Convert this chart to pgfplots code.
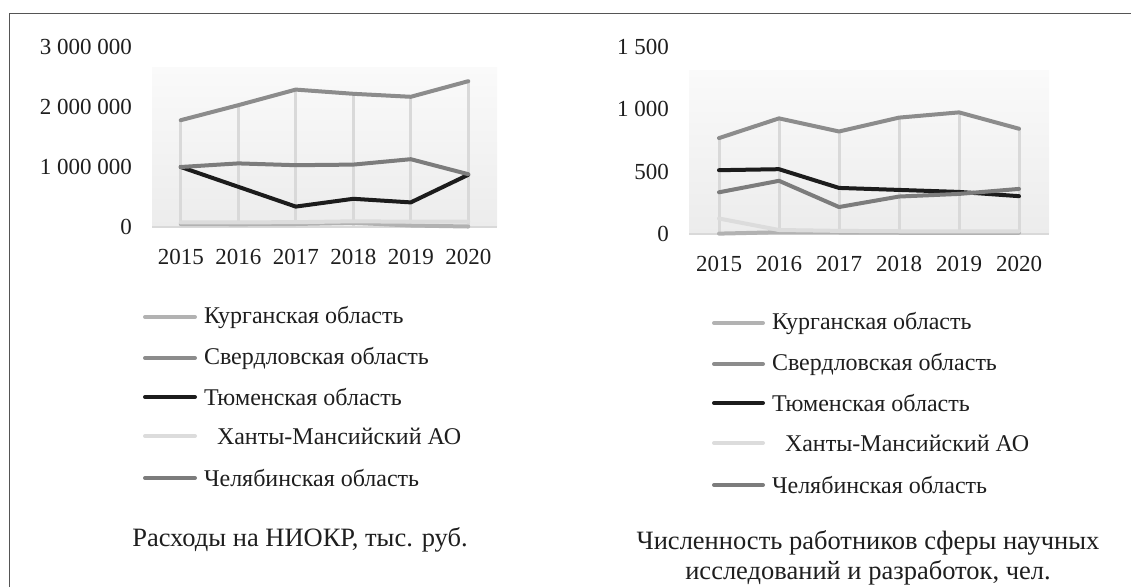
\documentclass[border=0pt]{standalone}
\usepackage{fontspec}
\setmainfont{Liberation Serif}
\usepackage{pgfplots}
\pgfplotsset{compat=1.18}
\definecolor{kur}{HTML}{B2B2B2}
\definecolor{sve}{HTML}{8C8C8C}
\definecolor{tyu}{HTML}{1C1C1C}
\definecolor{khm}{HTML}{DCDCDC}
\definecolor{che}{HTML}{7C7C7C}
\definecolor{drop}{HTML}{D9D9D9}
\definecolor{txt}{HTML}{1E1E1E}
\definecolor{frame}{HTML}{555555}
\definecolor{bgb}{HTML}{ECECEC}
\definecolor{bgt}{HTML}{FAFAFA}
\pgfplotsset{myax/.style={
  scale only axis, xmin=-0.5, xmax=5.5, ymin=0,
  axis line style={draw=none}, major tick length=0pt,
  tick style={draw=none}, scaled y ticks=false,
  xtick={0,1,2,3,4,5}, xticklabels={2015,2016,2017,2018,2019,2020},
  clip=false,
  ticklabel style={font=\fontsize{23}{26}\selectfont, text=txt, inner sep=0pt},
  yticklabel style={anchor=east, xshift=-20pt},
  xticklabel style={anchor=north, yshift=-22pt},
  every axis plot/.append style={line width=4pt, line cap=round, line join=round, mark=none},
}}
\begin{document}
\fontsize{24}{28}\selectfont
\begin{tikzpicture}[x=1pt,y=1pt]
\useasboundingbox (0,0) rectangle (1131,587);
\draw[color=frame, line width=1.5pt] (9.5,0) -- (9.5,573.5) -- (1131,573.5);

% Left chart
\begin{axis}[myax, at={(152pt,360pt)}, anchor=south west, width=345pt, height=180pt,
  ymax=3000000, ytick={0,1000000,2000000,3000000},
  yticklabels={0,1 000 000,2 000 000,3 000 000}]
\fill[top color=bgt, bottom color=bgb] (-0.5,0) rectangle (5.5,2650000);
\draw[color=drop, line width=2pt] (-0.5,0) -- (5.5,0);
\addplot[ycomb, color=drop, line width=3pt, line cap=butt] coordinates {(0,1780000)(1,2030000)(2,2290000)(3,2220000)(4,2170000)(5,2430000)};
\addplot[color=kur] coordinates {(0,50000)(1,45000)(2,50000)(3,70000)(4,25000)(5,8000)};
\addplot[color=sve] coordinates {(0,1780000)(1,2030000)(2,2290000)(3,2220000)(4,2170000)(5,2430000)};
\addplot[color=tyu] coordinates {(0,1000000)(1,670000)(2,340000)(3,470000)(4,410000)(5,870000)};
\addplot[color=khm] coordinates {(0,75000)(1,78000)(2,80000)(3,95000)(4,88000)(5,90000)};
\addplot[color=che] coordinates {(0,1000000)(1,1060000)(2,1030000)(3,1040000)(4,1130000)(5,880000)};
\end{axis}

% Right chart
\begin{axis}[myax, at={(689pt,353pt)}, anchor=south west, width=360pt, height=187.3pt,
  ymax=1500, ytick={0,500,1000,1500},
  yticklabels={0,500,1 000,1 500}]
\fill[top color=bgt, bottom color=bgb] (-0.5,0) rectangle (5.5,1311);
\draw[color=drop, line width=2pt] (-0.5,0) -- (5.5,0);
\addplot[ycomb, color=drop, line width=3pt, line cap=butt] coordinates {(0,768)(1,926)(2,821)(3,932)(4,974)(5,843)};
\addplot[color=kur] coordinates {(0,3)(1,14)(2,12)(3,10)(4,10)(5,10)};
\addplot[color=sve] coordinates {(0,768)(1,926)(2,821)(3,932)(4,974)(5,843)};
\addplot[color=tyu] coordinates {(0,511)(1,519)(2,369)(3,353)(4,337)(5,303)};
\addplot[color=khm] coordinates {(0,124)(1,32)(2,25)(3,22)(4,22)(5,22)};
\addplot[color=che] coordinates {(0,334)(1,426)(2,216)(3,300)(4,321)(5,361)};
\end{axis}

% Left legend
\begin{scope}[line width=4pt, line cap=round]
\draw[kur] (145,270) -- (195,270); \node[anchor=west, text=txt, inner sep=0pt] at (202,270) {Курганская область};
\draw[sve] (145,229) -- (195,229); \node[anchor=west, text=txt, inner sep=0pt] at (202,229) {Свердловская область};
\draw[tyu] (145,190) -- (195,190); \node[anchor=west, text=txt, inner sep=0pt] at (202,190) {Тюменская область};
\draw[khm] (145,151) -- (195,151); \node[anchor=west, text=txt, inner sep=0pt] at (215,151) {Ханты-Мансийский АО};
\draw[che] (145,109) -- (195,109); \node[anchor=west, text=txt, inner sep=0pt] at (202,109) {Челябинская область};
% Right legend
\draw[kur] (714,264) -- (763,264); \node[anchor=west, text=txt, inner sep=0pt] at (770,264) {Курганская область};
\draw[sve] (714,223) -- (763,223); \node[anchor=west, text=txt, inner sep=0pt] at (770,223) {Свердловская область};
\draw[tyu] (714,184) -- (763,184); \node[anchor=west, text=txt, inner sep=0pt] at (770,184) {Тюменская область};
\draw[khm] (714,144) -- (763,144); \node[anchor=west, text=txt, inner sep=0pt] at (783,144) {Ханты-Мансийский АО};
\draw[che] (714,102) -- (763,102); \node[anchor=west, text=txt, inner sep=0pt] at (770,102) {Челябинская область};
\end{scope}

% Titles
\node[text=txt, inner sep=0pt, font=\fontsize{26.5}{30}\selectfont] at (300,47) {Расходы на НИОКР, тыс. руб.};
\node[text=txt, inner sep=0pt, align=center, font=\fontsize{26.5}{30}\selectfont] at (868,29) {Численность работников сферы научных\\исследований и разработок, чел.};
\end{tikzpicture}
\end{document}
